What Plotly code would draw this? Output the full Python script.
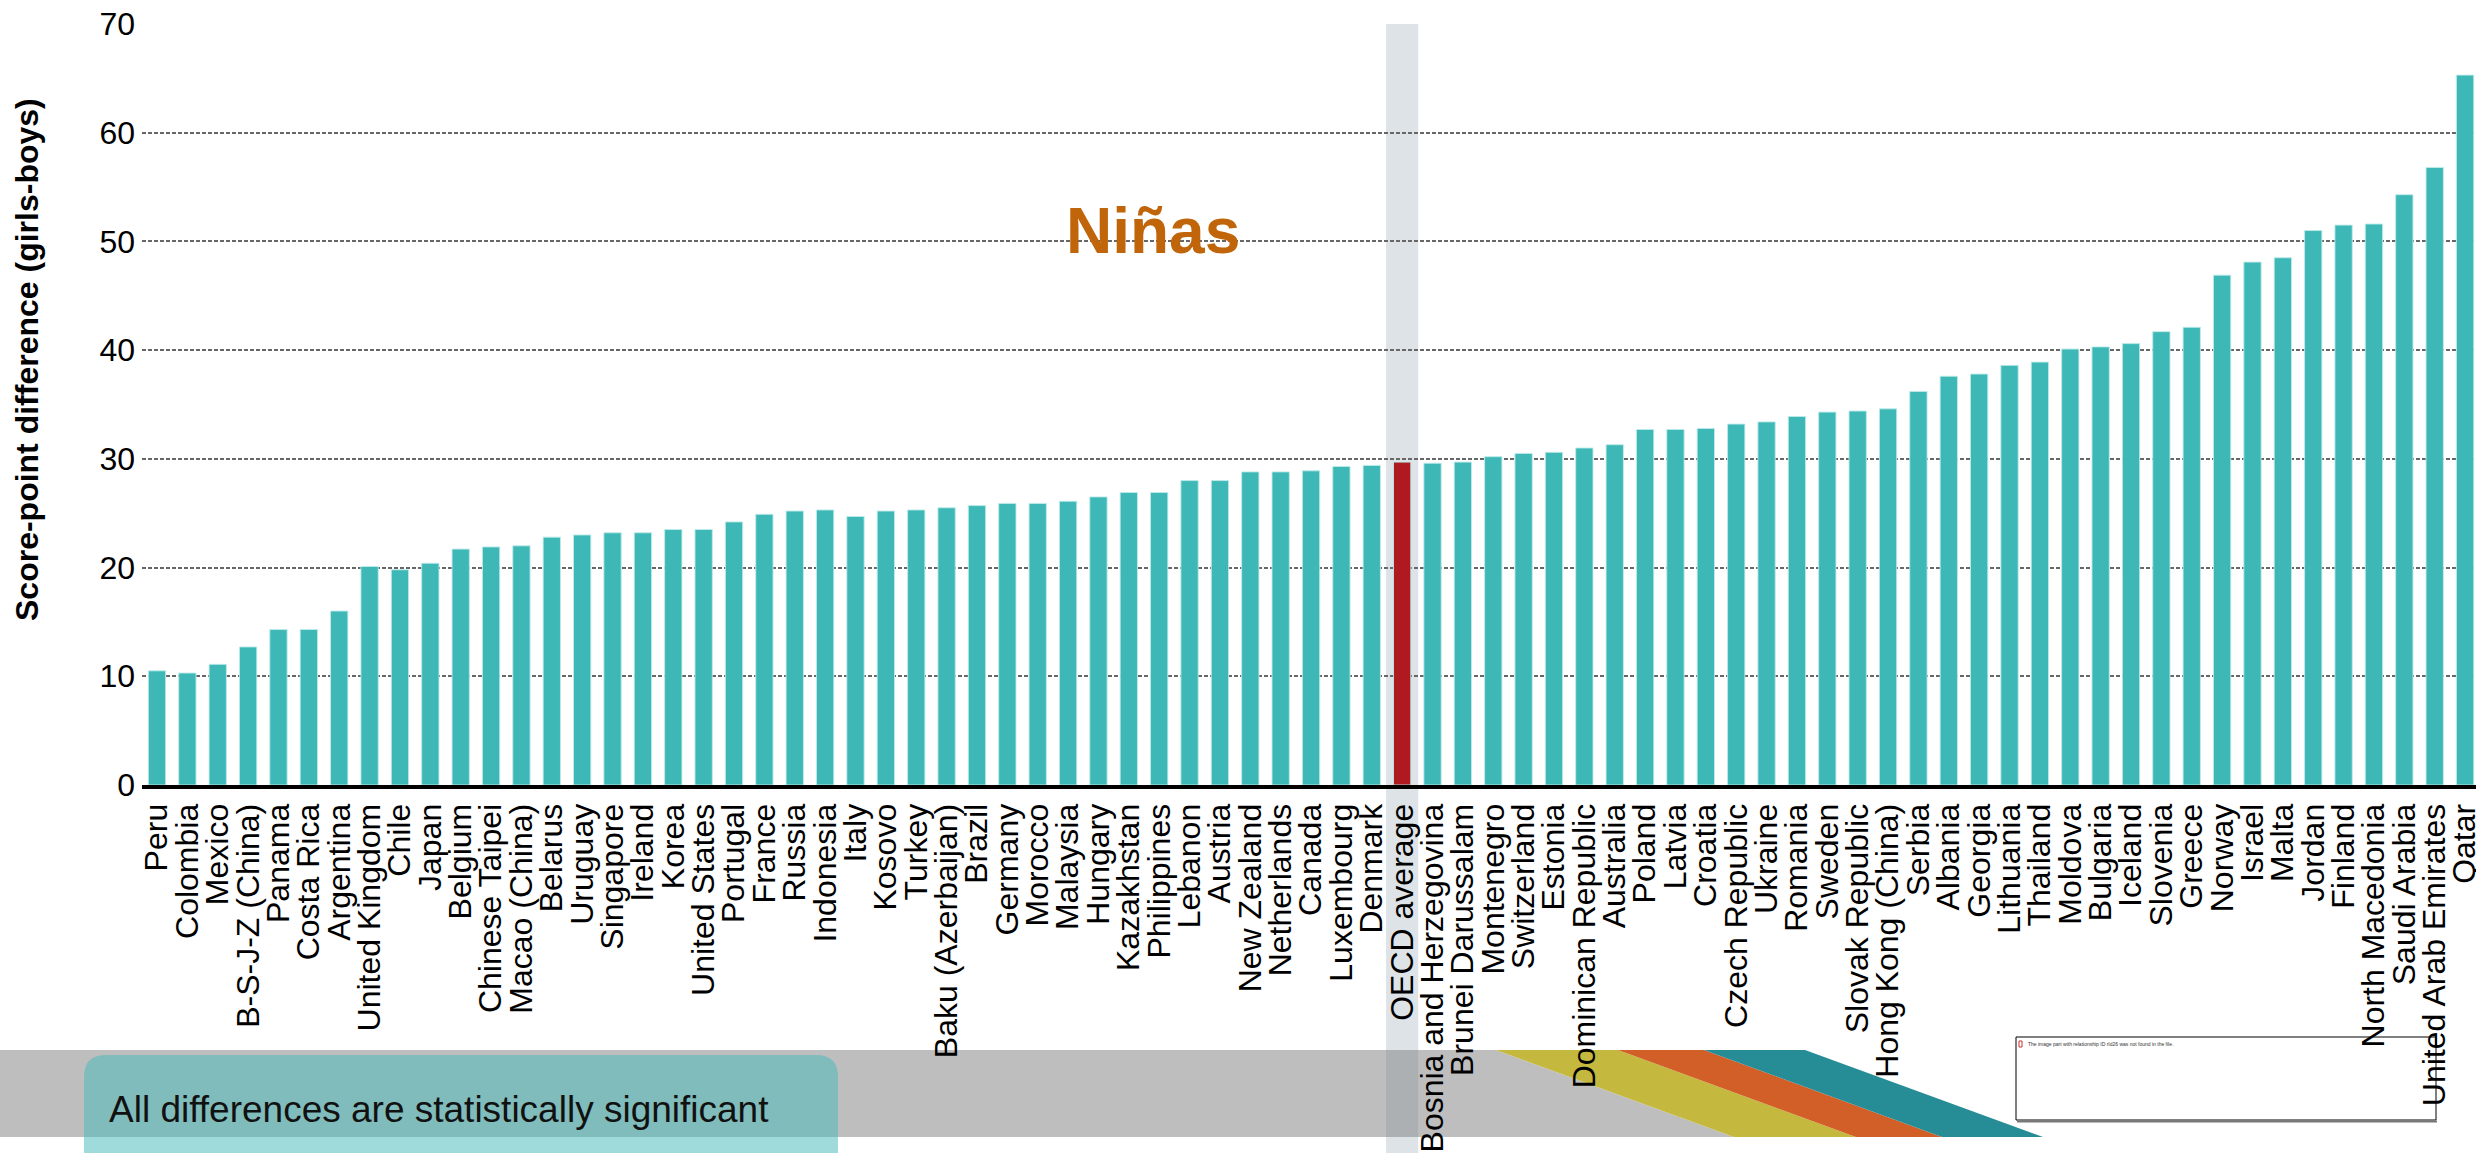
import plotly.graph_objects as go

# ---------------- data ----------------
countries = [
    "Peru", "Colombia", "Mexico", "B-S-J-Z (China)", "Panama", "Costa Rica", "Argentina",
    "United Kingdom", "Chile", "Japan", "Belgium", "Chinese Taipei", "Macao (China)", "Belarus",
    "Uruguay", "Singapore", "Ireland", "Korea", "United States", "Portugal", "France", "Russia",
    "Indonesia", "Italy", "Kosovo", "Turkey", "Baku (Azerbaijan)", "Brazil", "Germany", "Morocco",
    "Malaysia", "Hungary", "Kazakhstan", "Philippines", "Lebanon", "Austria", "New Zealand",
    "Netherlands", "Canada", "Luxembourg", "Denmark", "OECD average", "Bosnia and Herzegovina",
    "Brunei Darussalam", "Montenegro", "Switzerland", "Estonia", "Dominican Republic", "Australia",
    "Poland", "Latvia", "Croatia", "Czech Republic", "Ukraine", "Romania", "Sweden",
    "Slovak Republic", "Hong Kong (China)", "Serbia", "Albania", "Georgia", "Lithuania", "Thailand",
    "Moldova", "Bulgaria", "Iceland", "Slovenia", "Greece", "Norway", "Israel", "Malta", "Jordan",
    "Finland", "North Macedonia", "Saudi Arabia", "United Arab Emirates", "Qatar",
]
score_gap = [
    10.5, 10.3, 11.1, 12.7, 14.3, 14.3, 16.0,
    20.1, 19.8, 20.4, 21.7, 21.9, 22.0, 22.8,
    23.0, 23.2, 23.2, 23.5, 23.5, 24.2, 24.9, 25.2,
    25.3, 24.7, 25.2, 25.3, 25.5, 25.7, 25.9, 25.9,
    26.1, 26.5, 26.9, 26.9, 28.0, 28.0, 28.8,
    28.8, 28.9, 29.3, 29.4, 29.7, 29.6,
    29.7, 30.2, 30.5, 30.6, 31.0, 31.3,
    32.7, 32.7, 32.8, 33.2, 33.4, 33.9, 34.3,
    34.4, 34.6, 36.2, 37.6, 37.8, 38.6, 38.9,
    40.1, 40.3, 40.6, 41.7, 42.1, 46.9, 48.1, 48.5, 51.0,
    51.5, 51.6, 54.3, 56.8, 65.3,
]
y_ticks = [0, 10, 20, 30, 40, 50, 60, 70]
highlight = "OECD average"
y_title = "Score-point difference (girls-boys)"
label_text = "Niñas"
note_text = "All differences are statistically significant"
broken_img_text = "The image part with relationship ID rId26 was not found in the file."

# ---------------- styling ----------------
W, H = 2476, 1153
L, R, T, B = 142, 2476, 24, 785          # plot area in pixels
TEAL = "#3DB8B7"
RED = "#AE1A1F"
FONT = "Liberation Sans, Arial, Helvetica, sans-serif"

def px(X):
    return (X - L) / (R - L)

def py(Y):
    return (B - Y) / (B - T)

x_idx = list(range(len(countries)))
colors = [RED if c == highlight else TEAL for c in countries]
hi = countries.index(highlight)

fig = go.Figure(go.Bar(
    x=x_idx, y=score_gap, width=0.57,
    marker=dict(color=colors, line=dict(color="rgba(190,235,233,0.9)", width=1)),
    hoverinfo="skip",
))

fig.update_layout(
    width=W, height=H,
    margin=dict(l=L, r=W - R, t=T, b=H - B, autoexpand=False),
    paper_bgcolor="white", plot_bgcolor="rgba(0,0,0,0)",
    showlegend=False,
    font=dict(family=FONT, color="black", size=32),
)
fig.update_xaxes(
    tickmode="array", tickvals=x_idx, ticktext=countries, tickangle=-90,
    range=[-0.494, 76.36], showgrid=False, zeroline=False,
    showline=True, linecolor="black", linewidth=4, ticks="",
    tickfont=dict(size=32, color="black", family=FONT), ticklabelstandoff=2,
    ticklabeloverflow="allow", automargin=False,
)
fig.update_yaxes(
    range=[0, 70], tickmode="array", tickvals=y_ticks,
    showgrid=True, gridcolor="#676767", gridwidth=2, griddash="4px,2px",
    zeroline=False, showline=False, ticks="", automargin=False,
    tickfont=dict(size=32, color="black", family=FONT), ticklabelstandoff=6,
)

def poly(points):
    d = "M " + " L ".join(f"{px(x):.5f},{py(y):.5f}" for x, y in points) + " Z"
    return d

shapes = []
# OECD highlight band
shapes.append(dict(type="rect", xref="x", yref="paper", x0=hi - 0.53, x1=hi + 0.53,
                   y0=py(H), y1=1, fillcolor="#DDE3E6", line=dict(width=0), layer="below"))
# bottom decorative band
shapes.append(dict(type="path", xref="paper", yref="paper",
                   path=poly([(0, 1050), (1496, 1050), (1734, 1137), (0, 1137)]),
                   fillcolor="rgba(128,128,128,0.51)", line=dict(width=0), layer="below"))
shapes.append(dict(type="path", xref="paper", yref="paper",
                   path=poly([(1496, 1050), (1618, 1050), (1856, 1137), (1734, 1137)]),
                   fillcolor="#C5B83E", line=dict(width=0), layer="below"))
shapes.append(dict(type="path", xref="paper", yref="paper",
                   path=poly([(1618, 1050), (1704, 1050), (1942, 1137), (1856, 1137)]),
                   fillcolor="#D25F28", line=dict(width=0), layer="below"))
shapes.append(dict(type="path", xref="paper", yref="paper",
                   path=poly([(1704, 1050), (1805, 1050), (2043, 1137), (1942, 1137)]),
                   fillcolor="#268C96", line=dict(width=0), layer="below"))
# rounded teal note box
bx0, by0, bx1, by1, rad = 84, 1055, 838, 1190, 22
rx, ry = rad / (R - L), rad / (B - T)
X0, X1, Y0, Y1 = px(bx0), px(bx1), py(by0), py(by1)
rpath = (f"M {X0 + rx:.5f},{Y0:.5f} L {X1 - rx:.5f},{Y0:.5f} Q {X1:.5f},{Y0:.5f} {X1:.5f},{Y0 - ry:.5f} "
         f"L {X1:.5f},{Y1 + ry:.5f} Q {X1:.5f},{Y1:.5f} {X1 - rx:.5f},{Y1:.5f} "
         f"L {X0 + rx:.5f},{Y1:.5f} Q {X0:.5f},{Y1:.5f} {X0:.5f},{Y1 + ry:.5f} "
         f"L {X0:.5f},{Y0 - ry:.5f} Q {X0:.5f},{Y0:.5f} {X0 + rx:.5f},{Y0:.5f} Z")
shapes.append(dict(type="path", xref="paper", yref="paper", path=rpath,
                   fillcolor="rgba(70,186,184,0.52)", line=dict(width=0), layer="below"))
# broken image placeholder frame
shapes.append(dict(type="rect", xref="paper", yref="paper", x0=px(2016), x1=px(2436),
                   y0=py(1120), y1=py(1037), line=dict(color="black", width=1),
                   fillcolor="rgba(0,0,0,0)", layer="below"))
shapes.append(dict(type="line", xref="paper", yref="paper", x0=px(2017), x1=px(2437),
                   y0=py(1121.5), y1=py(1121.5), line=dict(color="#777777", width=2), layer="below"))
shapes.append(dict(type="rect", xref="paper", yref="paper", x0=px(2019), x1=px(2022),
                   y0=py(1047), y1=py(1041), line=dict(color="#C33", width=1),
                   fillcolor="rgba(0,0,0,0)", layer="below"))
fig.update_layout(shapes=shapes)

annotations = [
    dict(text=f"<b>{y_title}</b>", xref="paper", yref="paper", x=px(27), y=py(360),
         xanchor="center", yanchor="middle", textangle=-90, showarrow=False,
         font=dict(size=32, color="black", family=FONT)),
    dict(text=f"<b>{label_text}</b>", xref="x", yref="y", x=32.8, y=51.0,
         xanchor="center", yanchor="middle", showarrow=False,
         font=dict(size=64, color="#C0650A", family=FONT)),
    dict(text=note_text, xref="paper", yref="paper", x=px(107), y=py(1109),
         xanchor="left", yanchor="middle", showarrow=False,
         font=dict(size=37, color="#111111", family=FONT)),
    dict(text=broken_img_text, xref="paper", yref="paper", x=px(2026), y=py(1044),
         xanchor="left", yanchor="middle", showarrow=False,
         font=dict(size=5, color="#333333", family=FONT)),
]
fig.update_layout(annotations=annotations)

fig.write_html(
    "out.html",
    config={"displayModeBar": False},
    post_script="document.body.style.margin='0';document.body.style.overflow='hidden';",
)
